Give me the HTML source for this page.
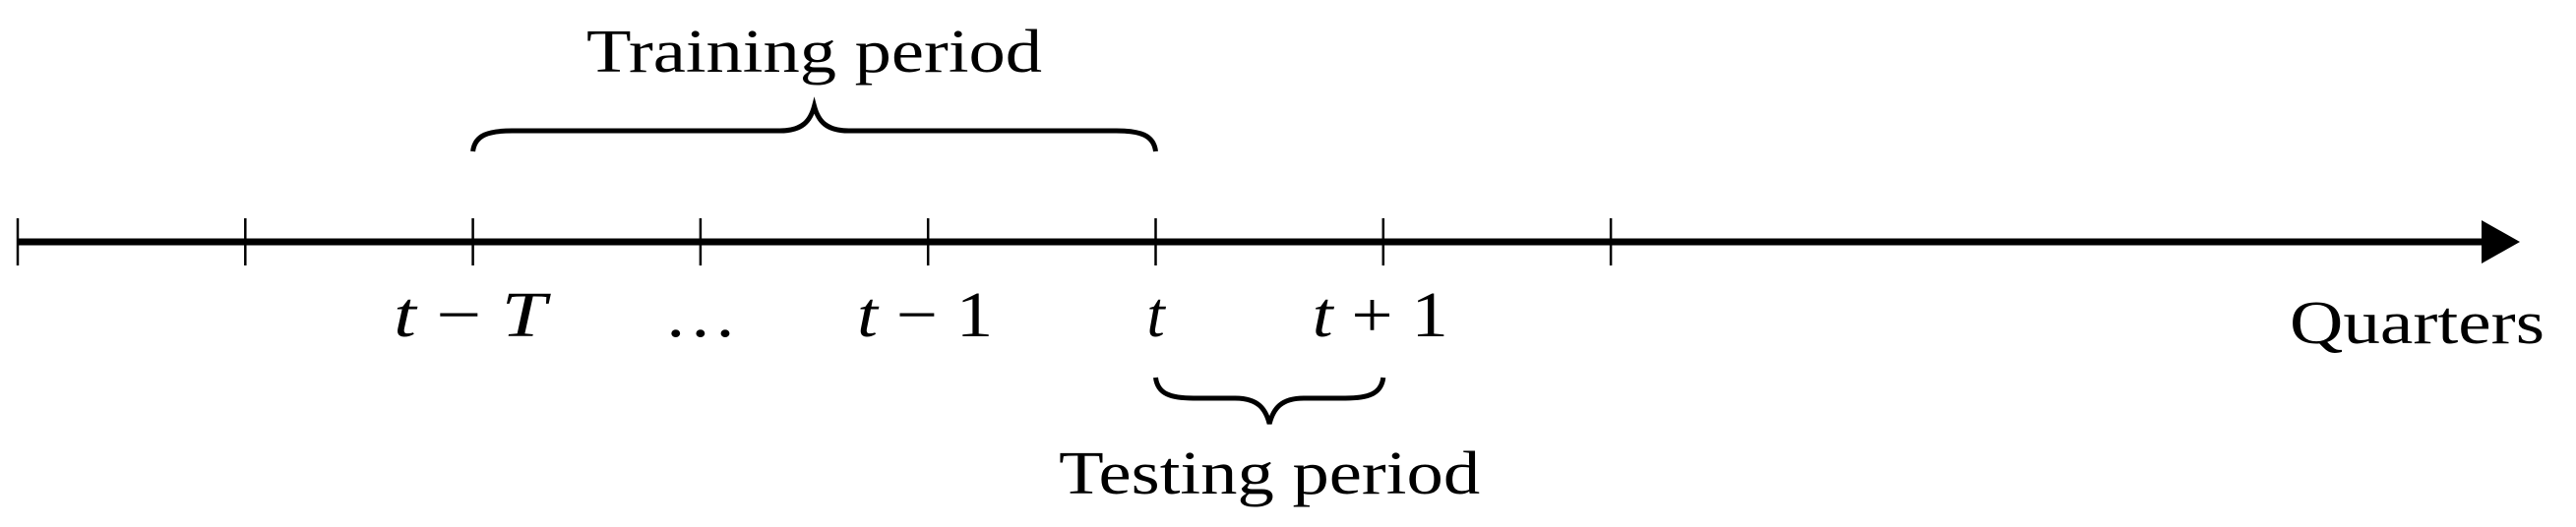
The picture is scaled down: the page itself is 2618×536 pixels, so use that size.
<!DOCTYPE html>
<html><head><meta charset="utf-8"><style>
html,body{margin:0;padding:0;background:#fff;}
svg{display:block;}
text{font-family:"Liberation Serif","DejaVu Serif",serif;fill:#000;}
</style></head><body>
<svg id="chart" width="2618" height="536" viewBox="0 0 2618 536" xmlns="http://www.w3.org/2000/svg">
<g id="axis"></g>
<g id="labels"></g>
<g id="braces"></g>
<text x="2586" y="349" font-size="62" text-anchor="end" textLength="259" lengthAdjust="spacingAndGlyphs">Quarters</text>
</svg>
<script>
const tickIndices = [0, 1, 2, 3, 4, 5, 6, 7];
const labelIndices = [2, 3, 4, 5, 6];
const labelParts = [["t", " \u2212 ", "T"], ["\u2026"], ["t", " \u2212 ", "1"], ["t"], ["t", " + ", "1"]];
const labelWidths = [155, 75, 138, 0, 138];
const trainingRange = [2, 5];
const testingRange = [5, 6];
const periodNames = ["Training period", "Testing period"];

const NS = "http://www.w3.org/2000/svg";
const x0 = 18, step = 231.3, axisY = 246;
const xs = i => x0 + i * step;
function mk(tag, attrs, parent){
  const e = document.createElementNS(NS, tag);
  for (const k in attrs) e.setAttribute(k, attrs[k]);
  parent.appendChild(e);
  return e;
}
const axis = document.getElementById('axis');
const line = mk('line', {x1: 18, y1: axisY, x2: 2530, y2: axisY, stroke: '#000', 'stroke-width': 7}, axis);


const arrow = mk('polygon', {points: `2522,224 2561,${axisY} 2522,268`, fill: '#000'}, axis);


tickIndices.forEach(i => {
  const t = mk('line', {x1: xs(i), y1: 222, x2: xs(i), y2: 270, stroke: '#000', 'stroke-width': 2.5}, axis);
  
  
});
const labels = document.getElementById('labels');
labelIndices.forEach((i, k) => {
  const attrs = {x: xs(i) - (labelParts[k].length > 1 ? 3 : 0), y: 342, 'font-size': 66, 'text-anchor': 'middle'};
  if (labelWidths[k]) { attrs.textLength = labelWidths[k]; attrs.lengthAdjust = 'spacingAndGlyphs'; }
  const t = mk('text', attrs, labels);
  labelParts[k].forEach(p => {
    const s = mk('tspan', {}, t);
    if (/^[a-zA-Z]$/.test(p)) s.setAttribute('font-style', 'italic');
    s.textContent = p;
  });
  
  
});
const braces = document.getElementById('braces');
function brace(a, b, yEnd, yFlat, yTip){
  const xa = xs(a), xb = xs(b), xm = (xa + xb) / 2;
  const r = Math.min(40, (xm - xa) / 3);
  const d = `M${xa},${yEnd} C${xa + 2},${yFlat + (yEnd - yFlat) * 0.2} ${xa + r * 0.4},${yFlat} ${xa + r},${yFlat} L${xm - 35},${yFlat} C${xm - 12},${yFlat} ${xm - 4},${yFlat + (yTip - yFlat) * 0.4} ${xm},${yTip} C${xm + 4},${yFlat + (yTip - yFlat) * 0.4} ${xm + 12},${yFlat} ${xm + 35},${yFlat} L${xb - r},${yFlat} C${xb - r * 0.4},${yFlat} ${xb - 2},${yFlat + (yEnd - yFlat) * 0.2} ${xb},${yEnd}`;
  return mk('path', {d: d, fill: 'none', stroke: '#000', 'stroke-width': 5}, braces);
}
const b1 = brace(trainingRange[0], trainingRange[1], 154, 133, 108);


const b2 = brace(testingRange[0], testingRange[1], 384, 405, 431);


const t1 = mk('text', {x: (xs(trainingRange[0]) + xs(trainingRange[1])) / 2, y: 73, 'font-size': 62, 'text-anchor': 'middle', textLength: 463, lengthAdjust: 'spacingAndGlyphs'}, braces);
t1.textContent = periodNames[0];


const t2 = mk('text', {x: (xs(testingRange[0]) + xs(testingRange[1])) / 2, y: 502, 'font-size': 62, 'text-anchor': 'middle', textLength: 428, lengthAdjust: 'spacingAndGlyphs'}, braces);
t2.textContent = periodNames[1];


</script>
</body></html>
